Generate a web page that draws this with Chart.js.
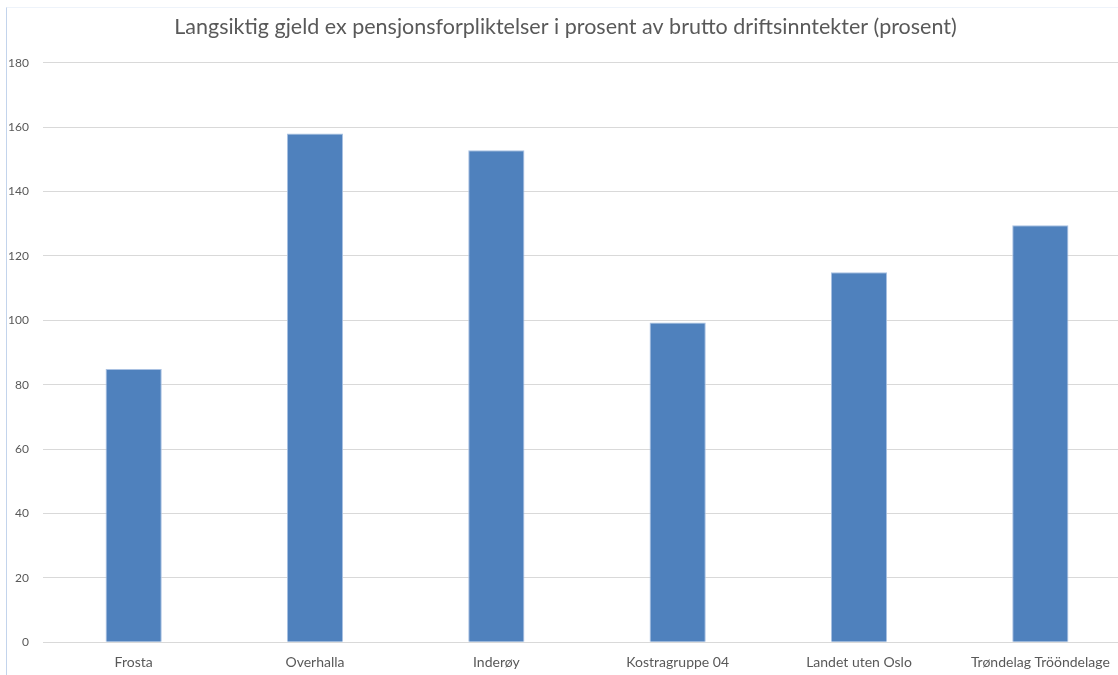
<!DOCTYPE html>
<html>
<head>
<meta charset="utf-8">
<script src="https://cdn.jsdelivr.net/npm/chart.js@4.4.1/dist/chart.umd.min.js"></script>
<style>
    html, body { margin: 0; padding: 0; background: #fff; overflow: hidden; }
    #frame {
        position: absolute; left: 6px; top: 7px; width: 1200px; height: 700px;
        border-left: 1px solid #c3d4ec; border-top: 1px solid #eef3fa;
    }
    #wrap { position: absolute; left: 0; top: 0; width: 1140px; height: 675px; }
</style>
</head>
<body>
<div id="frame"></div>
<div id="wrap"><canvas id="myChart" width="1140" height="675"></canvas></div>
<script>
// Chart values
const categories = ['Frosta', 'Overhalla', 'Inderøy', 'Kostragruppe 04', 'Landet uten Oslo', 'Trøndelag Trööndelage'];
const values = [84.9, 158.0, 152.8, 99.3, 114.9, 129.5];
const yTicks = [0, 20, 40, 60, 80, 100, 120, 140, 160, 180];

const ctx = document.getElementById('myChart').getContext('2d');
const myChart = new Chart(ctx, {
    type: 'bar',
    data: {
        labels: categories,
        datasets: [{
            label: 'Prosent',
            data: values,
            backgroundColor: '#4f81bd',
            borderColor: '#a9c1e2',
            borderWidth: 1,
            categoryPercentage: 1,
            barPercentage: 0.31
        }]
    },
    options: {
        responsive: false,
        animation: false,
        layout: { padding: { left: 0, right: 9, top: 8, bottom: 0 } },
        plugins: {
            legend: { display: false },
            tooltip: { enabled: false },
            title: {
                display: true,
                text: 'Langsiktig gjeld ex pensjonsforpliktelser i prosent av brutto driftsinntekter (prosent)',
                color: '#595959',
                font: { family: 'Lato', size: 21.5, weight: 'normal' },
                padding: { top: 6, bottom: 23 }
            }
        },
        scales: {
            x: {
                grid: { display: false },
                border: { display: false },
                ticks: {
                    color: '#595959',
                    font: { family: 'Lato', size: 14 },
                    padding: 4,
                    maxRotation: 0,
                    autoSkip: false
                }
            },
            y: {
                min: 0,
                max: 180,
                afterBuildTicks: scale => { scale.ticks = yTicks.map(v => ({ value: v })); },
                afterFit: scale => { scale.width = 43; },
                grid: { color: '#d9d9d9', lineWidth: 1, drawTicks: false },
                border: { display: false },
                ticks: {
                    color: '#595959',
                    font: { family: 'Lato', size: 12 },
                    padding: 14
                }
            }
        }
    }
});
</script>
</body>
</html>
